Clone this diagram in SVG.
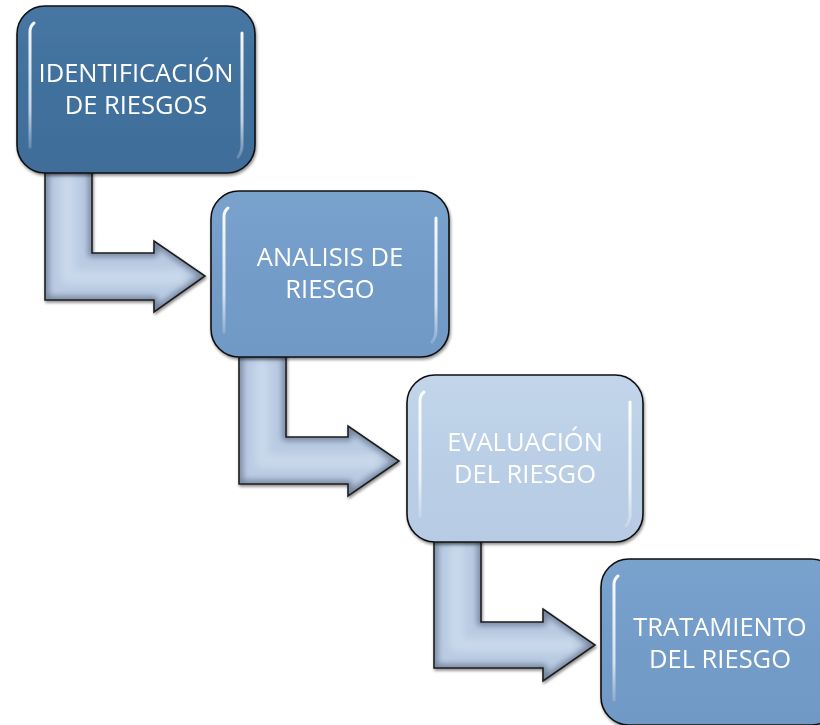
<svg xmlns="http://www.w3.org/2000/svg" width="820" height="725" viewBox="0 0 820 725">
<defs>
<linearGradient id="gDark" x1="0" y1="0" x2="0" y2="1">
<stop offset="0" stop-color="#4676A2"/><stop offset="0.5" stop-color="#41709C"/><stop offset="1" stop-color="#3F6D99"/>
</linearGradient>
<linearGradient id="gMid" x1="0" y1="0" x2="0" y2="1">
<stop offset="0" stop-color="#7AA2CD"/><stop offset="0.5" stop-color="#739CC9"/><stop offset="1" stop-color="#7099C6"/>
</linearGradient>
<linearGradient id="gLight" x1="0" y1="0" x2="0" y2="1">
<stop offset="0" stop-color="#C2D5EA"/><stop offset="0.5" stop-color="#BACFE6"/><stop offset="1" stop-color="#B7CCE4"/>
</linearGradient>
<linearGradient id="gHi" x1="0" y1="0" x2="0" y2="1">
<stop offset="0" stop-color="#FFFFFF" stop-opacity="0.95"/><stop offset="0.7" stop-color="#FFFFFF" stop-opacity="0.7"/><stop offset="1" stop-color="#FFFFFF" stop-opacity="0.2"/>
</linearGradient>
<filter id="sh" x="-10%" y="-10%" width="120%" height="120%">
<feGaussianBlur in="SourceAlpha" stdDeviation="1.5"/>
<feOffset dx="1" dy="1.5" result="b"/>
<feComponentTransfer><feFuncA type="linear" slope="0.45"/></feComponentTransfer>
<feMerge><feMergeNode/><feMergeNode in="SourceGraphic"/></feMerge>
</filter>
<filter id="bl" x="-20%" y="-20%" width="140%" height="140%"><feGaussianBlur stdDeviation="3"/></filter>
<path id="a1" d="M45,170 L92,170 L92,253 L154,253 L154,241 L205,276 L154,312 L154,300 L45,300 Z"/>
<path id="a2" d="M239,354 L286,354 L286,437 L348,437 L348,426 L399,461 L348,496 L348,484 L239,484 Z"/>
<path id="a3" d="M434,539 L481,539 L481,622 L543,622 L543,609 L595,645 L543,681 L543,668 L434,668 Z"/>
<clipPath id="c1"><use href="#a1"/></clipPath>
<clipPath id="c2"><use href="#a2"/></clipPath>
<clipPath id="c3"><use href="#a3"/></clipPath>
</defs>
<style>
.arrowfill{fill:#BACCE3}
.edge{fill:none;stroke:#6E7F98;stroke-width:7;filter:url(#bl)}
.ainner{fill:none;stroke:#CFDDEE;stroke-width:14;stroke-opacity:0.7;stroke-linejoin:round;filter:url(#bl)}
.outline{fill:none;stroke:#1E1E1E;stroke-width:1.6}
.box{stroke:#111;stroke-width:1.6}
.hi{fill:none;stroke:url(#gHi);stroke-width:3;stroke-linecap:round}
.lbl{font-family:"Open Sans","Noto Sans","Liberation Sans",sans-serif;font-size:25.5px;fill:#FFFFFF;text-anchor:middle}
</style>
<rect width="820" height="725" fill="#FFFFFF"/>
<g id="connectors">
<g id="arrow1" filter="url(#sh)">
<use href="#a1" class="arrowfill"/>
<g clip-path="url(#c1)"><use href="#a1" class="edge"/><path class="ainner" d="M68,176 L68,277 L185,277"/></g>
<use href="#a1" class="outline"/>
</g>
<g id="arrow2" filter="url(#sh)">
<use href="#a2" class="arrowfill"/>
<g clip-path="url(#c2)"><use href="#a2" class="edge"/><path class="ainner" d="M262,360 L262,461 L379,461"/></g>
<use href="#a2" class="outline"/>
</g>
<g id="arrow3" filter="url(#sh)">
<use href="#a3" class="arrowfill"/>
<g clip-path="url(#c3)"><use href="#a3" class="edge"/><path class="ainner" d="M457,545 L457,645 L575,645"/></g>
<use href="#a3" class="outline"/>
</g>
</g>
<g id="node1" filter="url(#sh)">
<rect class="box" x="17" y="6" width="238" height="167" rx="28" fill="url(#gDark)"/>
<path class="hi" d="M30,147 L30,32 Q30,26 34,23"/>
<path class="hi" d="M242,33 L242,145 Q242,152 238,157"/>
<text class="lbl" x="136" y="82">IDENTIFICACIÓN</text>
<text class="lbl" x="136" y="114">DE RIESGOS</text>
</g>
<g id="node2" filter="url(#sh)">
<rect class="box" x="211" y="191" width="238" height="166" rx="28" fill="url(#gMid)"/>
<path class="hi" d="M224,332 L224,217 Q224,211 228,208"/>
<path class="hi" d="M436,218 L436,330 Q436,337 432,342"/>
<text class="lbl" x="330" y="266">ANALISIS DE</text>
<text class="lbl" x="330" y="298">RIESGO</text>
</g>
<g id="node3" filter="url(#sh)">
<rect class="box" x="407" y="375" width="236" height="167" rx="28" fill="url(#gLight)"/>
<path class="hi" d="M420,516 L420,401 Q420,395 424,392"/>
<path class="hi" d="M630,402 L630,514 Q630,521 626,526"/>
<text class="lbl" x="525" y="451">EVALUACIÓN</text>
<text class="lbl" x="525" y="483">DEL RIESGO</text>
</g>
<g id="node4" filter="url(#sh)">
<rect class="box" x="601" y="559" width="238" height="166" rx="28" fill="url(#gMid)"/>
<path class="hi" d="M614,700 L614,585 Q614,579 618,576"/>
<text class="lbl" x="720" y="636">TRATAMIENTO</text>
<text class="lbl" x="720" y="668">DEL RIESGO</text>
</g>
</svg>
